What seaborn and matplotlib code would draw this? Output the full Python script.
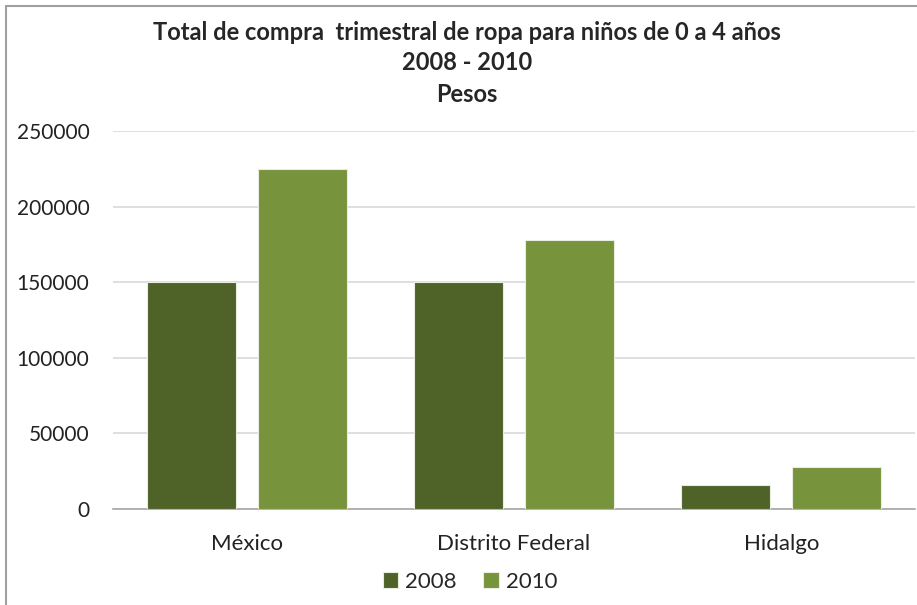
import matplotlib
matplotlib.use("Agg")
import matplotlib.pyplot as plt
import pandas as pd
import seaborn as sns
from matplotlib.lines import Line2D

estados = ["México", "Distrito Federal", "Hidalgo"]
anios = ["2008", "2010"]
compra_2008 = [150000, 150000, 16000]
compra_2010 = [225000, 178000, 28000]
colores = ["#4F6228", "#77933C"]

df = pd.DataFrame({
    "estado": estados * 2,
    "anio": [anios[0]] * 3 + [anios[1]] * 3,
    "pesos": compra_2008 + compra_2010,
})

sns.set_style("white")
plt.rcParams["font.family"] = ["Lato", "DejaVu Sans"]

fig = plt.figure(figsize=(9.17, 6.05), dpi=100)
ax = fig.add_axes([113 / 917, (605 - 509) / 605, (915 - 113) / 917, 378 / 605])

sns.barplot(data=df, x="estado", y="pesos", hue="anio", palette=colores,
            saturation=1, width=0.83, gap=0.2, edgecolor="#E8EDE0",
            linewidth=0.8, ax=ax, zorder=3)

ax.set_ylim(0, 250000)
ax.set_xlim(-0.5, 2.5)
ax.set_yticks(range(0, 250001, 50000))
ax.yaxis.grid(True, color="#D9D9D9", linewidth=1.2, zorder=0)
ax.set_axisbelow(True)
for s in ["top", "right", "left"]:
    ax.spines[s].set_visible(False)
ax.spines["bottom"].set_color("#A6A6A6")
ax.spines["bottom"].set_linewidth(1.2)
ax.tick_params(axis="y", length=0, pad=17, labelsize=15, labelcolor="#222222")
ax.tick_params(axis="x", length=0, pad=18, labelsize=16, labelcolor="#222222")
ax.set_xlabel("")
ax.set_ylabel("")

ax.legend(loc="center", bbox_to_anchor=(470 / 917, (605 - 582) / 605),
          bbox_transform=fig.transFigure, ncol=2, frameon=False,
          fontsize=16, handlelength=0.7, handleheight=0.7,
          handletextpad=0.3, columnspacing=1.2)

fig.text(467 / 917, 1 - 32 / 605, "Total de compra  trimestral de ropa para niños de 0 a 4 años",
         ha="center", va="center", fontsize=17, fontweight="bold")
fig.text(467 / 917, 1 - 63 / 605, "2008 - 2010", ha="center", va="center",
         fontsize=17, fontweight="bold")
fig.text(467 / 917, 1 - 94 / 605, "Pesos", ha="center", va="center",
         fontsize=17, fontweight="bold")

# marco gris del grafico
fig.add_artist(Line2D([5.5 / 917, 5.5 / 917], [0, 1 - 5.5 / 605],
                      transform=fig.transFigure, color="#A0A0A0", linewidth=1.5))
fig.add_artist(Line2D([5.5 / 917, 1], [1 - 5.5 / 605, 1 - 5.5 / 605],
                      transform=fig.transFigure, color="#A0A0A0", linewidth=1.5))

fig.savefig("out.png", dpi=100, facecolor="white")
